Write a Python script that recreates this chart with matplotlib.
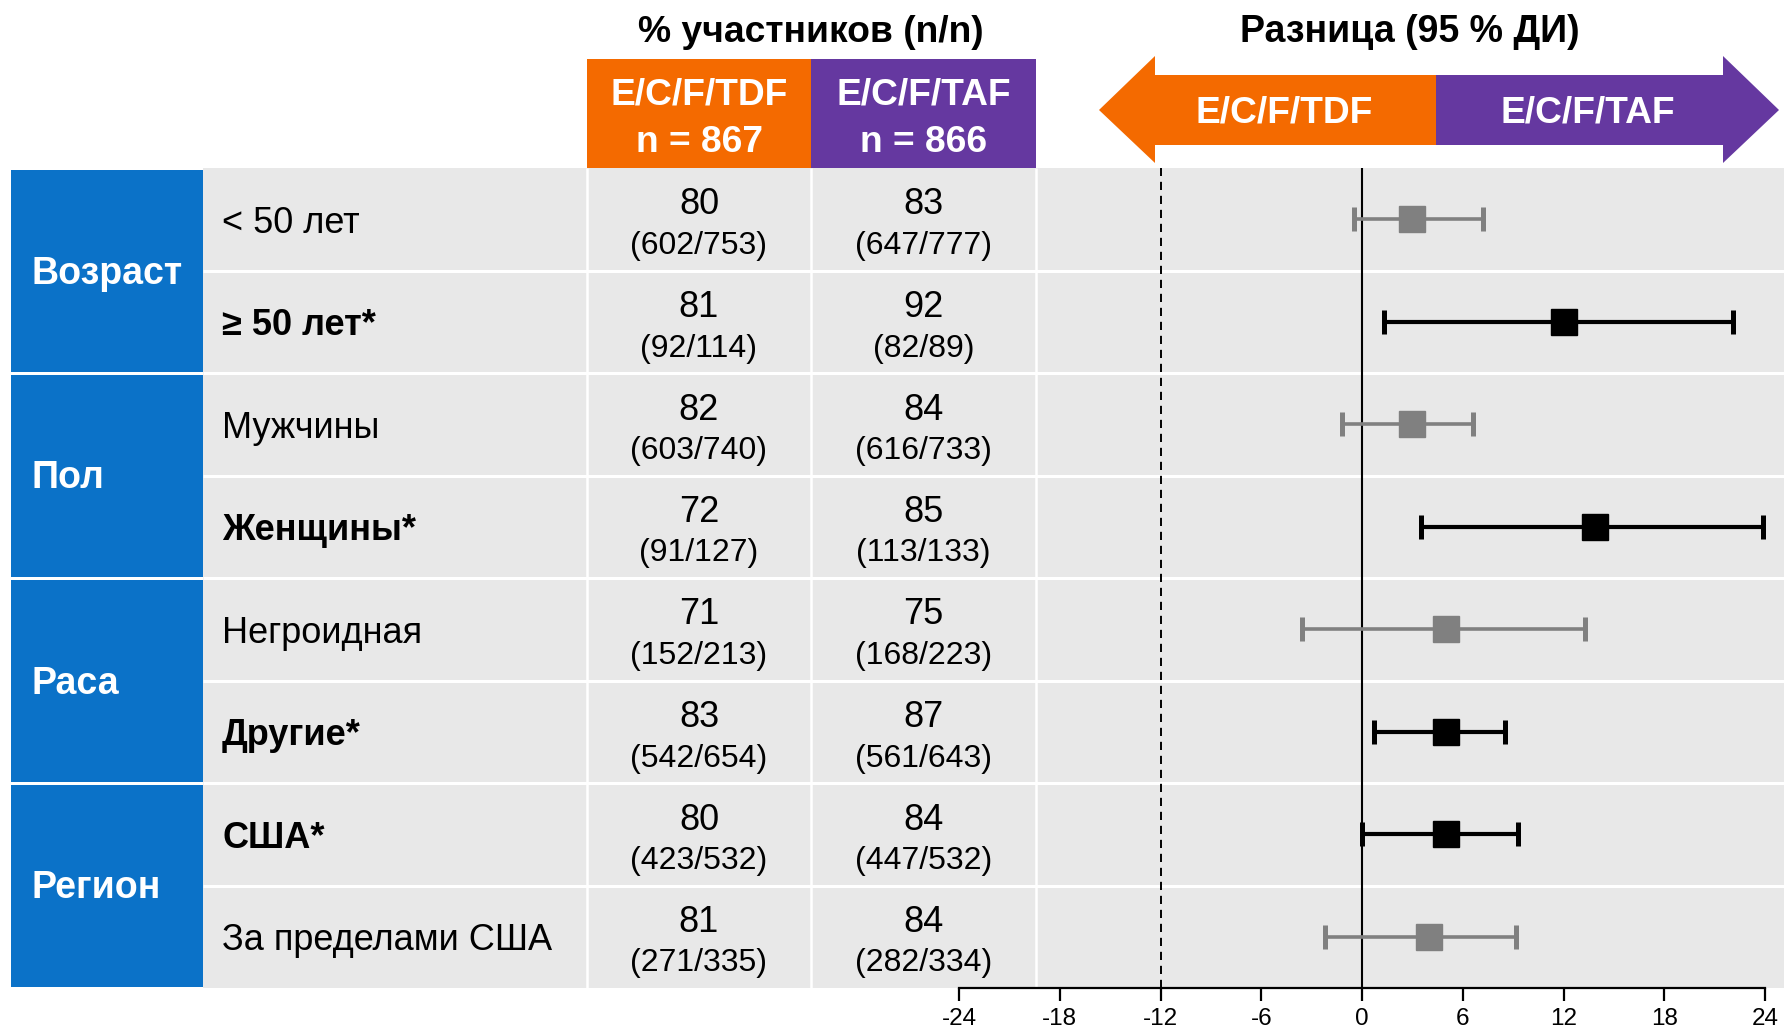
import matplotlib
matplotlib.use("Agg")
import matplotlib.pyplot as plt
from matplotlib.patches import Rectangle, Polygon

plt.rcParams['font.family'] = ['Liberation Sans', 'DejaVu Sans']
plt.rcParams['axes.unicode_minus'] = False

# ---- data ----
categories = ["Возраст", "Пол", "Раса", "Регион"]
subgroups = ["< 50 лет", "≥ 50 лет*", "Мужчины", "Женщины*",
             "Негроидная", "Другие*", "США*", "За пределами США"]
highlight = [False, True, False, True, False, True, True, False]
tdf_pct = [80, 81, 82, 72, 71, 83, 80, 81]
tdf_frac = ["602/753", "92/114", "603/740", "91/127",
            "152/213", "542/654", "423/532", "271/335"]
taf_pct = [83, 92, 84, 85, 75, 87, 84, 84]
taf_frac = ["647/777", "82/89", "616/733", "113/133",
            "168/223", "561/643", "447/532", "282/334"]
diff = [3.0, 12.0, 3.0, 13.9, 5.0, 5.0, 5.0, 4.0]
ci_low = [-0.5, 1.3, -1.2, 3.5, -3.6, 0.7, 0.0, -2.2]
ci_high = [7.2, 22.1, 6.6, 23.9, 13.3, 8.5, 9.3, 9.2]
x_ticks = [-24, -18, -12, -6, 0, 6, 12, 18, 24]
margin_line = -12

ORANGE = "#F46A00"
PURPLE = "#6538A0"
BLUE = "#0B72C8"
CELL = "#E8E8E8"
GREY_MARK = "#808080"

W, H = 1784, 1034
fig = plt.figure(figsize=(W / 100, H / 100), dpi=100)
base = fig.add_axes([0, 0, 1, 1])
base.set_xlim(0, W)
base.set_ylim(H, 0)
base.axis("off")

top, bottom = 168, 988
n_rows = len(subgroups)
row_h = (bottom - top) / n_rows
x_blue, x_sub, x_tdf, x_taf, x_plot = 11, 203, 587, 811, 1036

# table background
base.add_patch(Rectangle((x_sub, top), W - x_sub, bottom - top, color=CELL, lw=0))
for k in range(1, n_rows):
    y = top + k * row_h
    base.plot([x_sub, W], [y, y], color="white", lw=2.2, solid_capstyle="butt")
for x in (x_tdf, x_taf, x_plot):
    base.plot([x, x], [top, bottom], color="white", lw=1.8, solid_capstyle="butt")

# category blocks
for g, name in enumerate(categories):
    y0 = top + 2 * g * row_h
    base.add_patch(Rectangle((x_blue, y0 + 1.5), x_sub - x_blue, 2 * row_h - 3,
                             color=BLUE, lw=0))
    base.text(31, y0 + row_h + 3, name, color="white", fontsize=27,
              fontweight="bold", va="center", ha="left")

# row texts
c_tdf = (x_tdf + x_taf) / 2
c_taf = (x_taf + x_plot) / 2
for i, lab in enumerate(subgroups):
    y0 = top + i * row_h
    base.text(222, y0 + row_h / 2 + 4, lab, fontsize=26,
              fontweight="bold" if highlight[i] else "normal",
              va="center", ha="left")
    base.text(c_tdf, y0 + 37, str(tdf_pct[i]), fontsize=26, ha="center", va="center")
    base.text(c_tdf, y0 + 78, f"({tdf_frac[i]})", fontsize=23, ha="center", va="center")
    base.text(c_taf, y0 + 37, str(taf_pct[i]), fontsize=26, ha="center", va="center")
    base.text(c_taf, y0 + 78, f"({taf_frac[i]})", fontsize=23, ha="center", va="center")

# column headers
base.text(811, 32, "% участников (n/n)", fontsize=26.8, fontweight="bold",
          ha="center", va="center")
base.add_patch(Rectangle((x_tdf, 59), x_taf - x_tdf, top - 59, color=ORANGE, lw=0))
base.add_patch(Rectangle((x_taf, 59), x_plot - x_taf, top - 59, color=PURPLE, lw=0))
for cx, name, n in ((c_tdf, "E/C/F/TDF", 867), (c_taf, "E/C/F/TAF", 866)):
    base.text(cx, 95, name, color="white", fontsize=26.7, fontweight="bold",
              ha="center", va="center")
    base.text(cx, 142, f"n = {n}", color="white", fontsize=26.7, fontweight="bold",
              ha="center", va="center")

# difference header with double arrow
base.text(1410, 32, "Разница (95 % ДИ)", fontsize=27, fontweight="bold",
          ha="center", va="center")
left_arrow = [(1099, 110), (1155, 56), (1155, 75), (1436, 75),
              (1436, 145), (1155, 145), (1155, 163)]
right_arrow = [(1436, 75), (1723, 75), (1723, 56), (1779, 110),
               (1723, 163), (1723, 145), (1436, 145)]
base.add_patch(Polygon(left_arrow, closed=True, color=ORANGE, lw=0))
base.add_patch(Polygon(right_arrow, closed=True, color=PURPLE, lw=0))
base.text(1284, 113, "E/C/F/TDF", color="white", fontsize=26.7, fontweight="bold",
          ha="center", va="center")
base.text(1588, 113, "E/C/F/TAF", color="white", fontsize=26.7, fontweight="bold",
          ha="center", va="center")

# forest plot
ax_l, ax_r = 959, 1765
ax = fig.add_axes([ax_l / W, (H - bottom) / H, (ax_r - ax_l) / W, (bottom - top) / H])
ax.set_facecolor("none")
ax.set_xlim(x_ticks[0], x_ticks[-1])
ax.set_ylim(n_rows, 0)
for s in ("left", "right", "top"):
    ax.spines[s].set_visible(False)
ax.spines["bottom"].set_linewidth(1.6)
ax.set_yticks([])
ax.set_xticks(x_ticks)
ax.set_xticklabels([str(t) for t in x_ticks])
ax.tick_params(axis="x", direction="out", length=9.5, width=1.6, labelsize=17.5, pad=5)

ax.axvline(0, color="black", lw=1.5, zorder=1)
ax.axvline(margin_line, color="black", lw=1.4, ls=(0, (4.2, 3.0)), zorder=1)

for i in range(n_rows):
    col = "black" if highlight[i] else GREY_MARK
    yc = i + 0.5
    ax.errorbar([diff[i]], [yc],
                xerr=[[diff[i] - ci_low[i]], [ci_high[i] - diff[i]]],
                fmt="s", color=col, ms=19, mec=col, mfc=col,
                elinewidth=3.0 if highlight[i] else 2.6,
                capsize=8.5, capthick=3.6, zorder=3)

fig.savefig("out.png", dpi=100)
